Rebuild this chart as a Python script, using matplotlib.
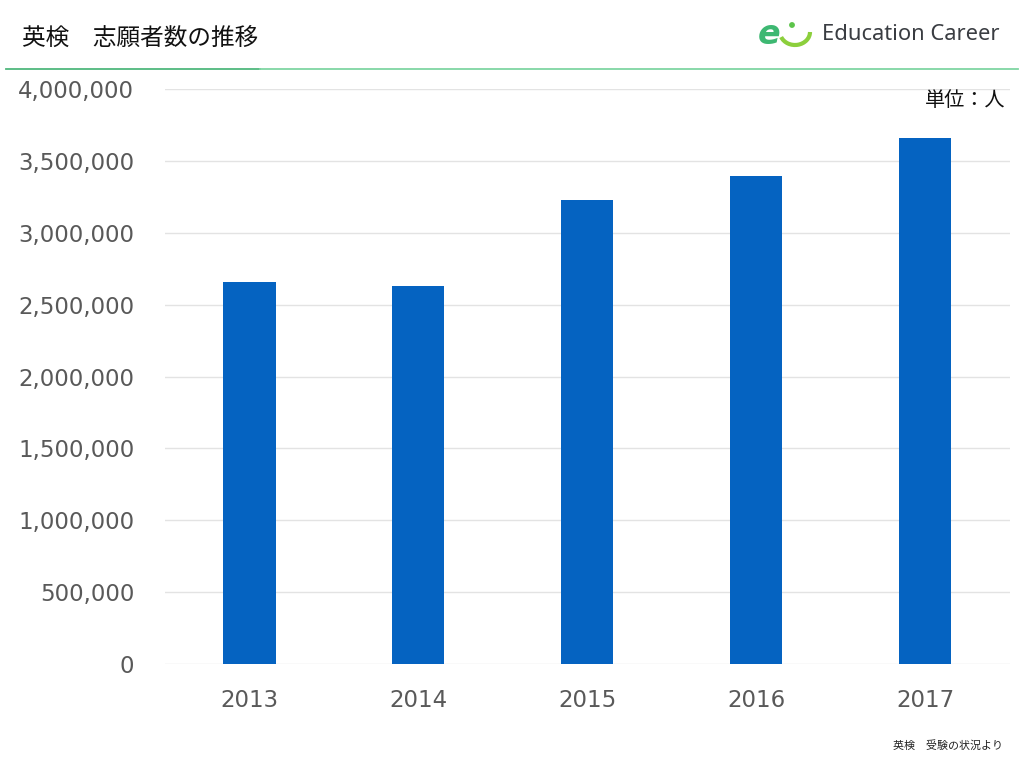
import numpy as np
import matplotlib.pyplot as plt
from matplotlib.patches import Arc, Circle

plt.rcParams['font.family'] = ['DejaVu Sans', 'Noto Sans CJK JP']

years = ['2013', '2014', '2015', '2016', '2017']
applicants = [2657000, 2632000, 3228000, 3395000, 3659000]
yticks = [0, 500000, 1000000, 1500000, 2000000, 2500000, 3000000, 3500000, 4000000]

fig = plt.figure(figsize=(10.24, 7.68), dpi=100)
ax = fig.add_axes([0.161, 0.1354, 0.825, 0.7487])

x = np.arange(len(years))
ax.bar(x, applicants, width=0.31, color='#0563C1', zorder=3)
ax.set_xlim(-0.5, len(years) - 0.5)
ax.set_ylim(0, 4000000)
ax.set_yticks(yticks)
ax.set_yticklabels(['{:,}'.format(v) for v in yticks], fontfamily='DejaVu Sans')
ax.set_xticks(x)
ax.set_xticklabels(years, fontfamily='DejaVu Sans')
ax.grid(axis='y', color='#e3e3e3', linewidth=1, zorder=0)
for s in ax.spines.values():
    s.set_visible(False)
ax.tick_params(axis='both', length=0, labelsize=16.5, labelcolor='#595959')
ax.tick_params(axis='y', pad=22)
ax.tick_params(axis='x', pad=18)

# header
jp = ['Noto Sans CJK JP', 'DejaVu Sans']
fig.text(22 / 1024, 1 - 38 / 768, '英検　志願者数の推移', family=jp, fontsize=17,
         color='#111111', va='center', ha='left')
fig.add_artist(plt.Line2D([6 / 1024, 260 / 1024], [1 - 69 / 768] * 2,
                          color='#4fb77d', linewidth=1.3))
fig.add_artist(plt.Line2D([260 / 1024, 1018 / 1024], [1 - 69 / 768] * 2,
                          color='#7fd6a3', linewidth=1.3))
fig.text(822 / 1024, 1 - 35 / 768, 'Education Career', fontsize=15.8,
         color='#3a3d42', va='center', ha='left', family='Noto Sans')

# logo icon
lax = fig.add_axes([755 / 1024, 1 - 50 / 768, 60 / 1024, 34 / 768])
lax.set_xlim(0, 60)
lax.set_ylim(0, 34)
lax.set_aspect('equal')
lax.axis('off')
lax.text(14, 15, 'e', fontsize=24, fontstyle='italic', fontweight='bold',
         color='#3db872', ha='center', va='center', family='DejaVu Sans')
lax.add_patch(Circle((37, 25), 2.2, color='#5cc44a'))
lax.add_patch(Arc((40, 18), 30, 26, theta1=200, theta2=360, color='#8ccf3c', linewidth=3))

fig.text(1005 / 1024, 1 - 100 / 768, '単位：人', family=jp, fontsize=14.5,
         color='#111111', va='center', ha='right')
fig.text(1003 / 1024, 1 - 745 / 768, '英検　受験の状況より', family=jp, fontsize=7.9,
         color='#222222', va='center', ha='right')

fig.savefig('out.png', dpi=100)
